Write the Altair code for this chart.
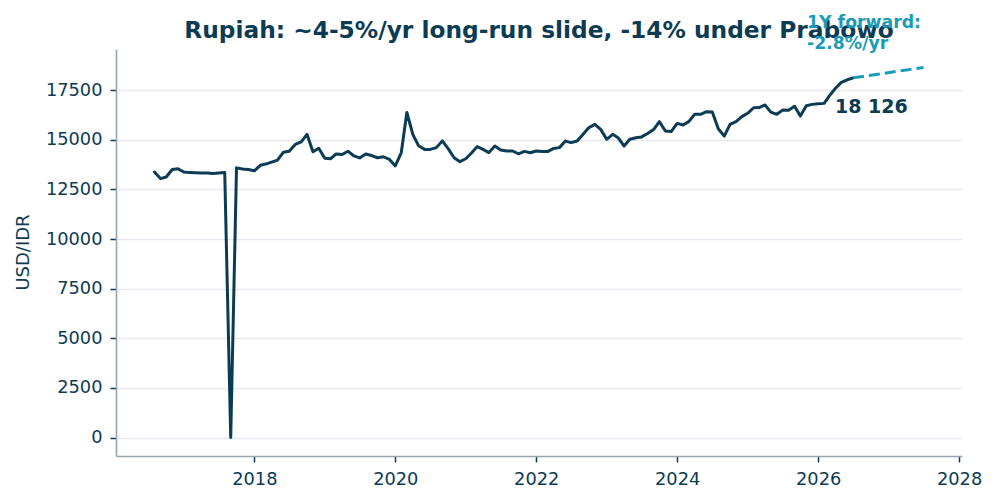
import altair as alt
import pandas as pd

# Monthly USD/IDR closes, Aug 2016 .. Jul 2026
start_month = "2016-08-01"
usd_idr = [
    # 2016 (Aug-Dec)
    13380, 13050, 13130, 13510, 13540,
    # 2017
    13380, 13350, 13340, 13330, 13330, 13310, 13330, 13350, 0, 13590, 13530, 13510,
    # 2018
    13440, 13720, 13780, 13880, 13980, 14380, 14430, 14770, 14900, 15280, 14400, 14580,
    # 2019
    14070, 14050, 14290, 14260, 14430, 14190, 14090, 14290, 14210, 14100, 14150, 14020,
    # 2020
    13690, 14350, 16380, 15280, 14700, 14520, 14520, 14610, 14950, 14560, 14100, 13900,
    # 2021
    14050, 14350, 14660, 14520, 14360, 14690, 14490, 14440, 14440, 14300, 14420, 14350,
    # 2022
    14440, 14410, 14410, 14570, 14610, 14940, 14860, 14940, 15280, 15620, 15780, 15530,
    # 2023
    15030, 15280, 15110, 14690, 15030, 15110, 15150, 15320, 15520, 15920, 15450, 15420,
    # 2024
    15830, 15750, 15920, 16290, 16290, 16420, 16400, 15560, 15190, 15780, 15920, 16170,
    # 2025
    16340, 16620, 16630, 16760, 16400, 16290, 16500, 16490, 16690, 16200, 16720, 16790,
    # 2026 (Jan-Jul)
    16820, 16840, 17230, 17600, 17900, 18030, 18126,
]

# One-year forward implied drift of the rupiah, % per year
fwd_rate_pct = -2.8

title_text = "Rupiah: ~4-5%/yr long-run slide, -14% under Prabowo"
y_ticks = [0, 2500, 5000, 7500, 10000, 12500, 15000, 17500]
x_ticks = [2018, 2020, 2022, 2024, 2026, 2028]

NAVY = "#0c3b54"
TEAL = "#1a9cb8"
GRID = "#e6e9ee"
SPINE = "#9aa4ae"
FONT = "DejaVu Sans"

PLOT_W, PLOT_H = 846, 407


def decimal_year(ts):
    return ts.year + (ts.dayofyear - 1) / 365.25


months = pd.date_range(start_month, periods=len(usd_idr), freq="MS")
hist = pd.DataFrame({"t": [decimal_year(m) for m in months], "rate": usd_idr})

last_t = hist["t"].iloc[-1]
last_v = usd_idr[-1]
fwd_v = last_v / (1 + fwd_rate_pct / 100)
fwd = pd.DataFrame({"t": [last_t, last_t + 1.0], "rate": [last_v, fwd_v]})

last_pt = pd.DataFrame({
    "t": [last_t],
    "rate": [last_v],
    "label": [f"{last_v:,}".replace(",", " ")],
    "fwd_label": [f"1Y forward:\n{fwd_rate_pct:.1f}%/yr"],
})

# Matplotlib-like 5% margins around the data
t_lo, t_hi = hist["t"].min(), fwd["t"].max()
t_pad = 0.05 * (t_hi - t_lo)
v_hi = max(fwd_v, max(usd_idr))
v_pad = 0.05 * v_hi

x_enc = alt.X(
    "t:Q",
    scale=alt.Scale(domain=[t_lo - t_pad, t_hi + t_pad], nice=False, zero=False),
    axis=alt.Axis(values=x_ticks, format="d", grid=False, title=None),
)
y_enc = alt.Y(
    "rate:Q",
    scale=alt.Scale(domain=[-v_pad, v_hi + v_pad], nice=False, zero=False),
    axis=alt.Axis(
        values=y_ticks,
        format="d",
        grid=True,
        title="USD/IDR",
        titleAngle=-90,
        titleX=-93,
        titleY=203,
        titleAlign="center",
        titleBaseline="middle",
    ),
)

hist_line = alt.Chart(hist).mark_line(
    color=NAVY, strokeWidth=3, strokeJoin="round", strokeCap="round"
).encode(x=x_enc, y=y_enc)

fwd_line = alt.Chart(fwd).mark_line(
    color=TEAL, strokeWidth=3, strokeDash=[11, 5]
).encode(x="t:Q", y="rate:Q")

last_label = alt.Chart(last_pt).mark_text(
    align="left", baseline="alphabetic", dx=-18, dy=35,
    font=FONT, fontSize=19, fontWeight="bold", color=NAVY,
).encode(x="t:Q", y="rate:Q", text="label:N")

fwd_label = alt.Chart(last_pt).mark_text(
    align="left", baseline="alphabetic", dx=-46, dy=-50,
    font=FONT, fontSize=17.3, fontWeight="bold", color=TEAL,
    lineBreak="\n", lineHeight=21,
).encode(x="t:Q", y="rate:Q", text="fwd_label:N")

# Chart heading, centred over the plot area just above its top edge
heading = alt.Chart(pd.DataFrame({"title": [title_text]})).mark_text(
    align="center", baseline="alphabetic",
    font=FONT, fontSize=23.3, fontWeight="bold", color=NAVY,
).encode(x=alt.value(PLOT_W / 2), y=alt.value(-11), text="title:N")

chart = (
    alt.layer(hist_line, fwd_line, last_label, heading, fwd_label)
    .properties(
        width=PLOT_W,
        height=PLOT_H,
        autosize=alt.AutoSizeParams(type="none"),
        padding={"left": 116, "top": 49, "right": 31, "bottom": 47},
        background="white",
    )
    .configure_view(stroke=None)
    .configure_axis(
        labelFont=FONT,
        labelFontSize=17.8,
        labelColor=NAVY,
        titleFont=FONT,
        titleFontSize=18,
        titleFontWeight="normal",
        titleColor=NAVY,
        domainColor=SPINE,
        domainWidth=1.6,
        tickColor=NAVY,
        tickSize=6,
        tickWidth=1.5,
        gridColor=GRID,
        gridWidth=1.5,
        labelPadding=8,
    )
)

chart.save("out.html", embed_options={"renderer": "svg", "actions": False})
